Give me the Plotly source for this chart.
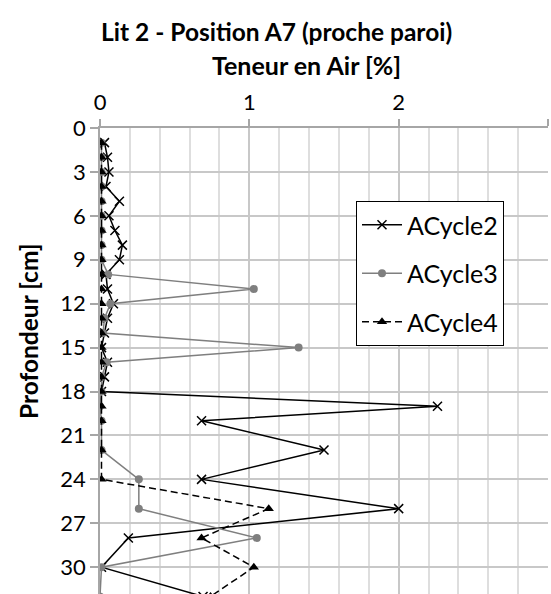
import plotly.graph_objects as go

# Depth of each measurement point [cm]
depths = [1, 2, 3, 4, 5, 6, 7, 8, 9, 10, 11, 12, 13, 14, 15, 16, 17, 18, 19, 20,
          22, 24, 26, 28, 30, 32]

# Air content [%] per cycle
acycle2 = [0.03, 0.05, 0.06, 0.04, 0.13, 0.06, 0.10, 0.15, 0.13, 0.04,
           0.05, 0.09, 0.05, 0.03, 0.01, 0.05, 0.03, 0.01, 2.26, 0.68,
           1.50, 0.68, 2.00, 0.19, 0.01, 0.69]
acycle3 = [0.01, 0.01, 0.01, 0.01, 0.01, 0.01, 0.01, 0.01, 0.01, 0.055,
           1.03, 0.07, 0.03, 0.02, 1.33, 0.045, 0.01, 0.01, 0.0, 0.01,
           0.01, 0.26, 0.26, 1.05, 0.01, 0.0]
acycle4 = [0.01, 0.01, 0.01, 0.01, 0.01, 0.01, 0.01, 0.01, 0.01, 0.01,
           0.01, 0.01, 0.01, 0.01, 0.01, 0.01, 0.01, 0.01, 0.01, 0.01,
           0.01, 0.01, 1.13, 0.68, 1.03, 0.74]

x_ticks = [0, 1, 2, 3]
y_ticks = [0, 3, 6, 9, 12, 15, 18, 21, 24, 27, 30]

FONT = "Lato"

fig = go.Figure()
fig.add_trace(go.Scatter(
    x=acycle2, y=depths, name="ACycle2", mode="lines+markers", legendgroup="a2",
    line=dict(color="black", width=1.5),
    marker=dict(symbol="x-thin", size=9, color="black",
                line=dict(color="black", width=1.5)),
))
fig.add_trace(go.Scatter(
    x=acycle3, y=depths, name="ACycle3", mode="lines+markers", legendgroup="a3",
    line=dict(color="#7f7f7f", width=1.5),
    marker=dict(symbol="circle", size=8, color="#7f7f7f"),
))
fig.add_trace(go.Scatter(
    x=acycle4, y=depths, name="ACycle4", mode="lines+markers", legendgroup="a4",
    line=dict(color="black", width=1.5, dash="7px,4px"),
    marker=dict(symbol="triangle-up", size=9, color="black"),
))

fig.update_layout(
    width=551, height=594,
    margin=dict(l=100, r=3, t=128, b=0),
    paper_bgcolor="white", plot_bgcolor="white",
    font=dict(family=FONT, size=22, color="black"),
    title=dict(text="<b>Lit 2 - Position A7 (proche paroi)</b>",
               x=0.502, xanchor="center", y=1 - 32 / 594, yanchor="middle",
               font=dict(family=FONT, size=24.5, color="black")),
    showlegend=True,
    legend=dict(x=(356 - 100) / 448, y=(594 - 201) / 466,
                xanchor="left", yanchor="top",
                bgcolor="white", bordercolor="black", borderwidth=1,
                font=dict(family=FONT, size=25, color="black"),
                tracegroupgap=13, itemwidth=40, entrywidth=143),
    xaxis=dict(side="top", range=[0, 3], tickvals=x_ticks,
               showgrid=True, gridcolor="#c8c8c8", gridwidth=1.5,
               minor=dict(dtick=0.2, showgrid=True, gridcolor="#dedede",
                          gridwidth=1.5),
               showline=True, linecolor="#a6a6a6", linewidth=1.5,
               ticks="outside", ticklen=7, tickcolor="#a6a6a6", tickwidth=1.5,
               zeroline=False, tickfont=dict(size=22)),
    yaxis=dict(range=[31.83, 0], tickvals=y_ticks,
               showgrid=True, gridcolor="#c8c8c8", gridwidth=1.5,
               showline=True, linecolor="#a6a6a6", linewidth=1.5,
               ticks="outside", ticklen=8, tickcolor="#a6a6a6", tickwidth=1.5,
               zeroline=False, tickfont=dict(size=22)),
    annotations=[
        dict(text="<b>Teneur en Air [%]</b>", xref="paper", yref="paper",
             x=(306.7 - 100) / 448, y=(594 - 65) / 466,
             xanchor="center", yanchor="middle", showarrow=False,
             font=dict(family=FONT, size=25, color="black")),
        dict(text="<b>Profondeur [cm]</b>", xref="paper", yref="paper",
             x=(28 - 100) / 448, y=(594 - 332) / 466, textangle=-90,
             xanchor="center", yanchor="middle", showarrow=False,
             font=dict(family=FONT, size=24.5, color="black")),
    ],
)

fig.write_html("out.html")
